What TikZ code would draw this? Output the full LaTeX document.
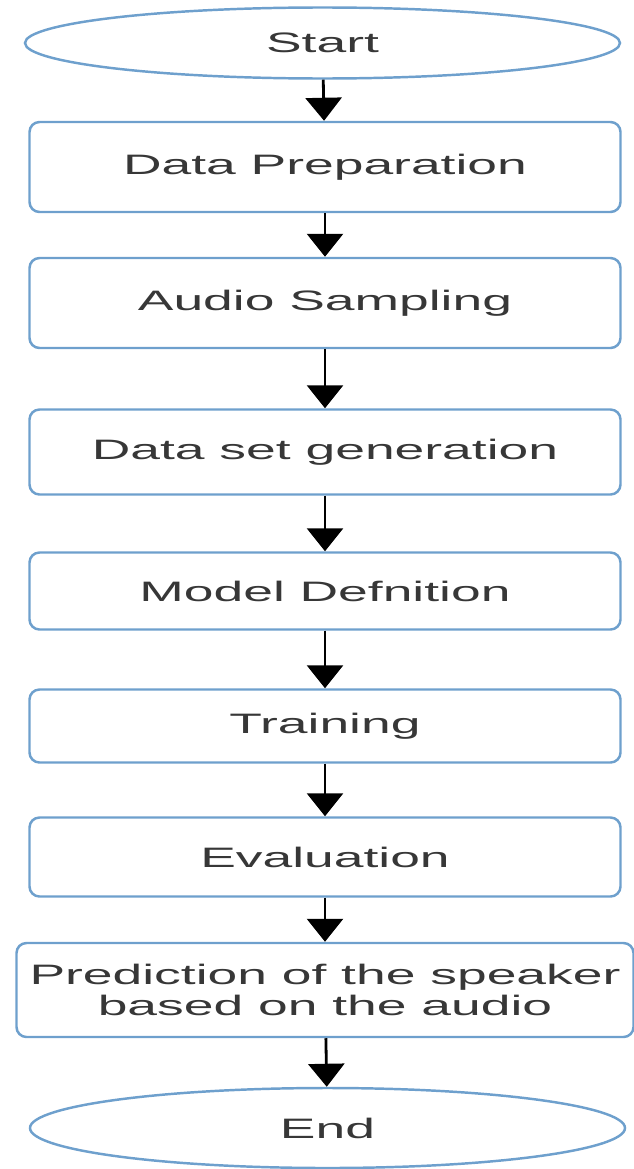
\documentclass[tikz,border=0pt]{standalone}
\usepackage{fontspec}
\setmainfont{Liberation Sans}[FakeStretch=1.9]
\usepackage{xcolor}
\usetikzlibrary{shapes.geometric, arrows.meta, positioning}

\definecolor{boxblue}{RGB}{110,160,205}
\definecolor{textgray}{RGB}{55,55,55}

\begin{document}
\begin{tikzpicture}[
    every node/.style={draw=boxblue, line width=1.4pt, text=textgray, inner sep=0pt,
        font=\fontsize{16}{18}\selectfont},
    terminal/.style={ellipse, minimum width=11.9cm, minimum height=1.5cm},
    process/.style={rectangle, rounded corners=0.2cm, minimum width=11.82cm, minimum height=1.7cm, align=center},
    flow/.style={-{Triangle[width=0.72cm, length=0.46cm]}, line width=1.6pt, black}
]
\useasboundingbox (0,0) rectangle (12.68,-23.38);

% Start and end of the pipeline
\node[terminal, minimum height=1.42cm] (start) at (6.45,-0.86) {Start};
\node[terminal, minimum height=1.6cm] (end) at (6.55,-22.56) {End};

% Processing steps
\node[process, minimum height=1.8cm] (prep) at (6.5,-3.34) {Data Preparation};
\node[process, minimum height=1.8cm] (sampling) at (6.5,-6.06) {Audio Sampling};
\node[process] (dataset) at (6.5,-9.04) {Data set generation};
\node[process, minimum height=1.54cm] (model) at (6.5,-11.82) {Model Defnition};
\node[process, minimum height=1.46cm] (training) at (6.5,-14.52) {Training};
\node[process, minimum height=1.58cm] (evaluation) at (6.5,-17.14) {Evaluation};
\node[process, minimum width=12.34cm, minimum height=1.88cm] (predict) at (6.5,-19.8) {Prediction of the speaker\\based on the audio};

% Arrows between the steps
\draw[flow] (start) -- (prep);
\draw[flow] (prep) -- (sampling);
\draw[flow] (sampling) -- (dataset);
\draw[flow] (dataset) -- (model);
\draw[flow] (model) -- (training);
\draw[flow] (training) -- (evaluation);
\draw[flow] (evaluation) -- (predict);
\draw[flow] (predict) -- (end);

\end{tikzpicture}
\end{document}
